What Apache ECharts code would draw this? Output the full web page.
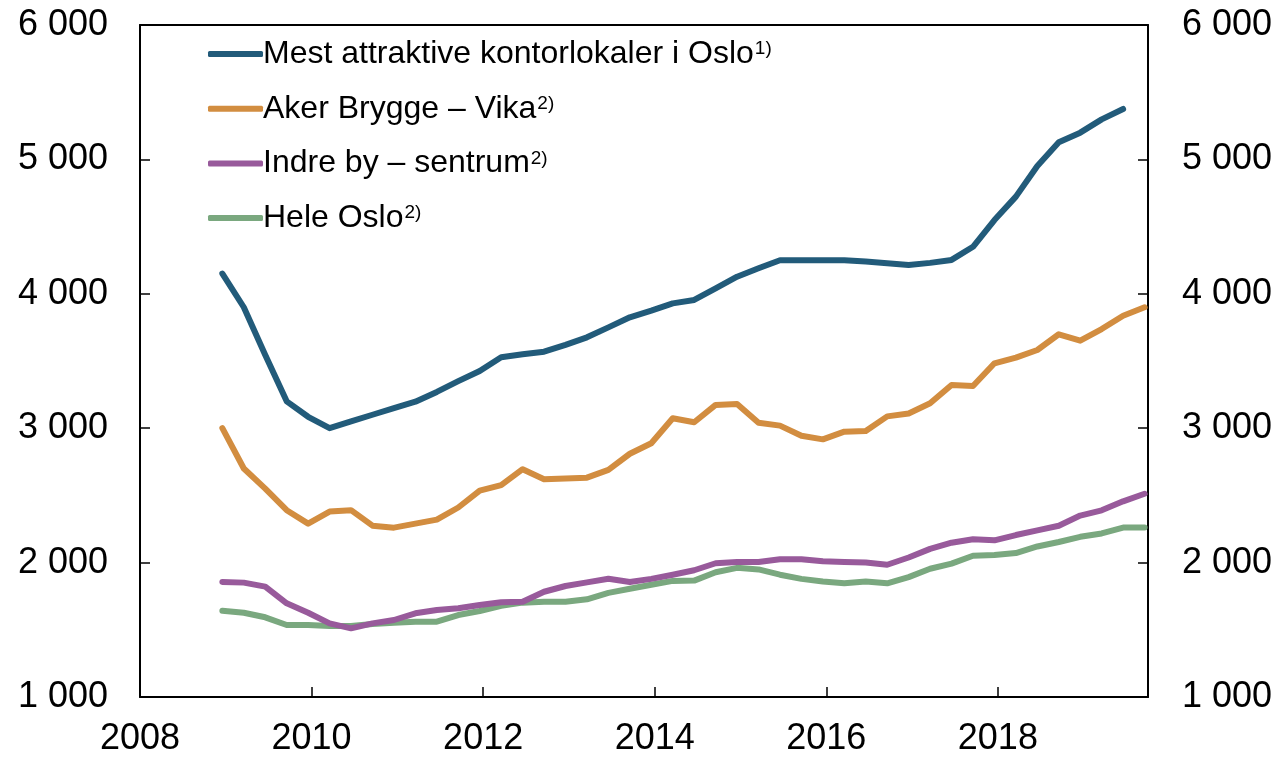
<!DOCTYPE html>
<html>
<head>
<meta charset="utf-8">
<script src="https://cdn.jsdelivr.net/npm/echarts@6/dist/echarts.min.js"></script>
<style>
html,body{margin:0;padding:0;background:#fff;}
#chart{width:1281px;height:761px;}
</style>
</head>
<body>
<div id="chart"></div>
<script>
// Quarterly observations, first quarter plotted just before 2009
const firstQuarter = 2008.96;
const quarterStep = 0.25;

const seriesNames = [
  'Mest attraktive kontorlokaler i Oslo',
  'Aker Brygge \u2013 Vika',
  'Indre by \u2013 sentrum',
  'Hele Oslo'
];
const footnotes = ['1)', '2)', '2)', '2)'];

const mestAttraktive = [4150,3900,3545,3200,3085,3000,3050,3100,3150,3197,
  3270,3350,3426,3528,3550,3569,3620,3676,3750,3825,
  3875,3929,3954,4040,4127,4190,4250,4250,4250,4250,
  4240,4228,4214,4230,4252,4350,4549,4723,4951,5127,
  5199,5298,5375];

const akerBrygge = [3000,2700,2550,2390,2290,2380,2390,2275,2260,2290,
  2320,2410,2535,2577,2695,2620,2625,2632,2690,2810,
  2888,3074,3044,3173,3180,3041,3019,2944,2917,2974,
  2979,3088,3110,3185,3321,3314,3483,3525,3582,3699,
  3651,3738,3837,3900];

const indreBy = [1856,1851,1821,1697,1627,1548,1511,1548,1573,1623,
  1647,1660,1685,1705,1709,1783,1826,1853,1880,1855,
  1879,1910,1943,1995,2005,2005,2025,2025,2010,2005,
  2000,1984,2038,2102,2148,2174,2166,2205,2240,2274,
  2350,2389,2456,2512];

const heleOslo = [1642,1627,1593,1536,1536,1528,1528,1543,1553,1560,
  1560,1610,1640,1679,1702,1709,1709,1727,1775,1805,
  1835,1864,1866,1928,1961,1949,1910,1879,1859,1846,
  1859,1846,1892,1954,1992,2051,2056,2071,2120,2153,
  2192,2217,2261,2261];

const yTicks = [1000,2000,3000,4000,5000,6000];
const xTicks = [2008,2010,2012,2014,2016,2018];

const colors = ['#225b7a','#d28d40','#985a9b','#7aa87f'];

function toPairs(values){
  return values.map((v,i)=>[firstQuarter + i*quarterStep, v]);
}
function fmtThousands(v){
  return String(v).replace(/\B(?=(\d{3})+(?!\d))/g,' ');
}

const font = 'Liberation Sans, Arial, sans-serif';
const chart = echarts.init(document.getElementById('chart'), null, {renderer:'canvas'});

const yAxisCommon = {
  type:'value', min:yTicks[0], max:yTicks[yTicks.length-1], interval:1000,
  axisLine:{show:true, lineStyle:{color:'#000', width:2}},
  axisTick:{show:true, inside:true, length:10, lineStyle:{color:'#000', width:1.5}},
  splitLine:{show:false},
  axisLabel:{fontSize:36, color:'#000', fontFamily:font, formatter:fmtThousands}
};

chart.setOption({
  animation:false,
  backgroundColor:'#fff',
  color:colors,
  grid:{left:140, right:133, top:25, bottom:64, containLabel:false},
  legend:{
    orient:'vertical', left:203, top:33, itemWidth:55, itemHeight:6, itemGap:22.7,
    icon:'roundRect',
    formatter:name => '{t|' + name + '}{s|' + footnotes[seriesNames.indexOf(name)] + '}',
    textStyle:{fontSize:32, color:'#000', fontFamily:font, lineHeight:32, padding:[0,0,0,-5],
      rich:{
        t:{fontSize:32, fontFamily:font, color:'#000', lineHeight:32},
        s:{fontSize:19, fontFamily:font, color:'#000', lineHeight:19, padding:[0,0,10,1]}
      }},
    data:seriesNames
  },
  xAxis:[{
    type:'value', min:xTicks[0], max:2019.75, interval:2,
    axisLine:{show:true, onZero:false, lineStyle:{color:'#000', width:2}},
    axisTick:{show:true, inside:true, length:10, lineStyle:{color:'#000', width:1.5}},
    splitLine:{show:false},
    axisLabel:{fontSize:36, color:'#000', fontFamily:font, margin:24,
      showMaxLabel:false,
      formatter:v => (xTicks.indexOf(v) >= 0 ? String(v) : '')}
  },{
    type:'value', position:'top', min:xTicks[0], max:2019.75,
    axisLine:{show:true, lineStyle:{color:'#000', width:2}},
    axisTick:{show:false}, axisLabel:{show:false}, splitLine:{show:false}
  }],
  yAxis:[
    Object.assign({}, yAxisCommon, {position:'left', axisLabel:Object.assign({}, yAxisCommon.axisLabel, {margin:32})}),
    Object.assign({}, yAxisCommon, {position:'right', axisLabel:Object.assign({}, yAxisCommon.axisLabel, {margin:34})})
  ],
  series:[
    {name:seriesNames[0], data:toPairs(mestAttraktive)},
    {name:seriesNames[1], data:toPairs(akerBrygge)},
    {name:seriesNames[2], data:toPairs(indreBy)},
    {name:seriesNames[3], data:toPairs(heleOslo)}
  ].map((s,i)=>Object.assign({
    type:'line', xAxisIndex:0, yAxisIndex:0, showSymbol:false, symbol:'none',
    lineStyle:{width:6, color:colors[i], cap:'round', join:'round'},
    itemStyle:{color:colors[i]}, z:10-i
  }, s))
});
</script>
</body>
</html>
